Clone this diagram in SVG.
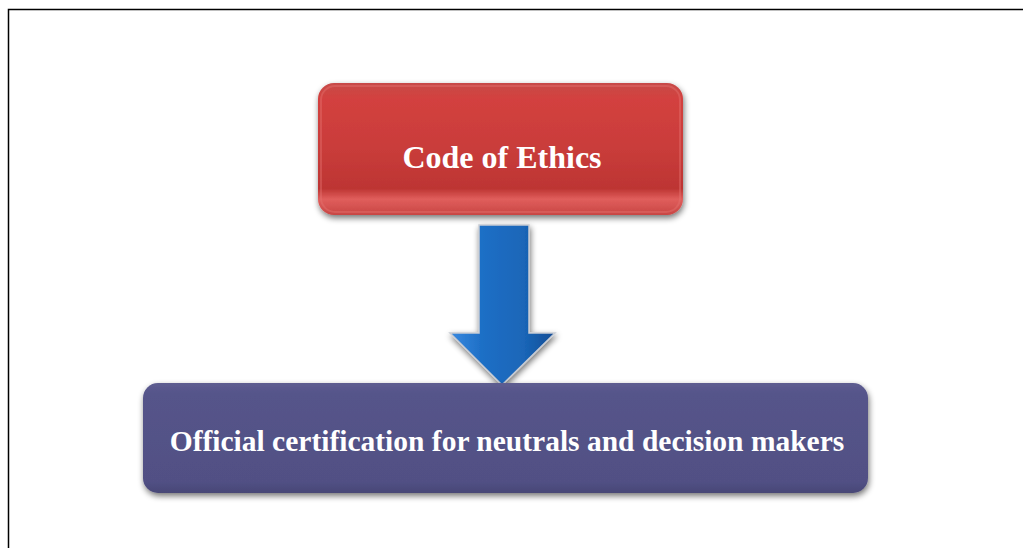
<svg xmlns="http://www.w3.org/2000/svg" width="1023" height="548" viewBox="0 0 1023 548">
<style>
.lbl{font-family:"Liberation Serif","Times New Roman",serif;font-weight:bold;fill:#ffffff;text-anchor:middle}
</style>
<defs>
<linearGradient id="red" x1="0" y1="0" x2="0" y2="1">
<stop offset="0" stop-color="#c74a48"/>
<stop offset="0.12" stop-color="#d3413f"/>
<stop offset="0.5" stop-color="#c93c3a"/>
<stop offset="0.8" stop-color="#bd3533"/>
<stop offset="0.88" stop-color="#e05e5c"/>
<stop offset="1" stop-color="#c84644"/>
</linearGradient>
<linearGradient id="blue" x1="0" y1="0" x2="0" y2="1">
<stop offset="0" stop-color="#5e5d90"/>
<stop offset="0.1" stop-color="#55548a"/>
<stop offset="0.9" stop-color="#515084"/>
<stop offset="1" stop-color="#484776"/>
</linearGradient>
<linearGradient id="arr" x1="0" y1="0" x2="1" y2="0">
<stop offset="0" stop-color="#3a8ae0"/>
<stop offset="0.3" stop-color="#1e6fc6"/>
<stop offset="0.7" stop-color="#1a66b8"/>
<stop offset="1" stop-color="#114d95"/>
</linearGradient>
<filter id="sh" x="-10%" y="-20%" width="120%" height="140%">
<feGaussianBlur in="SourceAlpha" stdDeviation="3"/>
<feOffset dx="1" dy="3"/>
<feComponentTransfer><feFuncA type="linear" slope="0.55"/></feComponentTransfer>
<feMerge><feMergeNode/><feMergeNode in="SourceGraphic"/></feMerge>
</filter>
</defs>
<rect width="1023" height="548" fill="#ffffff"/>
<path d="M8.5 548 V9.5 H1023" fill="none" stroke="#000000" stroke-width="1.5"/>
<g id="connectors">
<g filter="url(#sh)">
<path d="M479 225 H529 V333 H555 L502 385 L450 333 H479 Z" fill="url(#arr)" stroke="#c8ccd4" stroke-width="1.5"/>
</g>
</g>
<g id="node-code-of-ethics">
<rect x="318" y="83" width="365" height="132" rx="16" fill="url(#red)" filter="url(#sh)"/>
<rect x="321" y="86" width="359" height="126" rx="14" fill="none" stroke="#e57572" stroke-opacity="0.4" stroke-width="2"/>
<text class="lbl" x="502" y="168" font-size="32">Code of Ethics</text>
</g>
<g id="node-certification">
<rect x="143" y="383" width="725" height="110" rx="15" fill="url(#blue)" filter="url(#sh)"/>
<text class="lbl" x="507" y="451" font-size="29.5">Official certification for neutrals and decision makers</text>
</g>
</svg>
